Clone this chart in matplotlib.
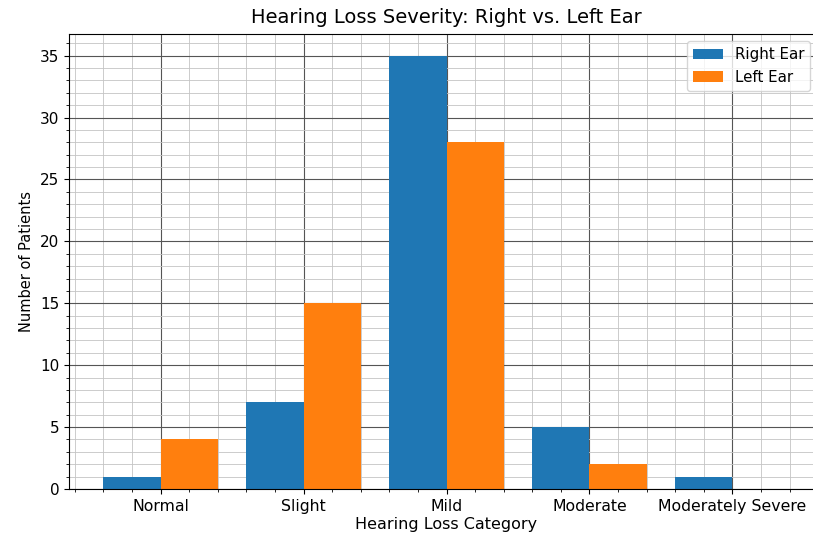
import matplotlib
matplotlib.use("Agg")
import matplotlib.pyplot as plt
import numpy as np
from matplotlib.ticker import AutoMinorLocator

categories = ["Normal", "Slight", "Mild", "Moderate", "Moderately Severe"]
right_ear = [1, 7, 35, 5, 1]
left_ear = [4, 15, 28, 2, 0]

plt.rcParams["font.size"] = 11

fig = plt.figure(figsize=(8.13, 5.34), dpi=100)
ax = fig.add_axes([69 / 813, 45 / 534, (824 - 69) / 813, 455 / 534])

x = np.arange(len(categories))
width = 0.4
ax.bar(x - width / 2, right_ear, width, label="Right Ear", color="#1f77b4")
ax.bar(x + width / 2, left_ear, width, label="Left Ear", color="#ff7f0e")

ax.set_xticks(x)
ax.set_xticklabels(categories, fontsize=11.3)
ax.tick_params(axis="y", labelsize=11)
ax.xaxis.set_minor_locator(AutoMinorLocator())
ax.yaxis.set_minor_locator(AutoMinorLocator())
ax.set_axisbelow(True)
ax.grid(which="major", color="#555555", linewidth=0.8)
ax.grid(which="minor", color="#c4c4c4", linewidth=0.6)

ax.set_xlabel("Hearing Loss Category", fontsize=11.5, labelpad=2)
ax.set_ylabel("Number of Patients", fontsize=10.5)
ax.set_title("Hearing Loss Severity: Right vs. Left Ear", fontsize=14, pad=8)
ax.legend(loc="upper right", fontsize=10.8, borderaxespad=0,
          bbox_to_anchor=(810 / 813, 1 - 41 / 534),
          bbox_transform=fig.transFigure)

fig.savefig("out.png", dpi=100)
